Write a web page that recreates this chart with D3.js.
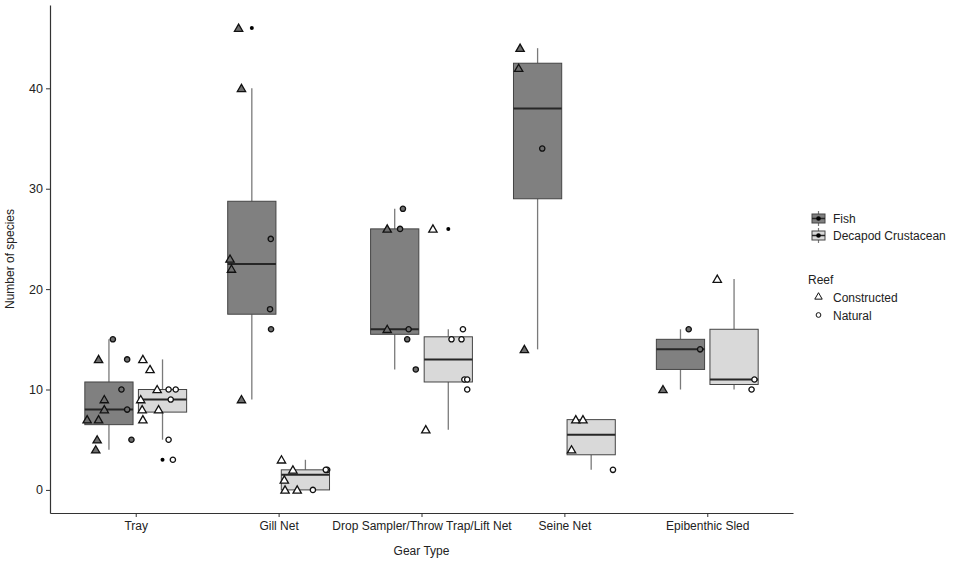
<!DOCTYPE html>
<html>
<head>
<meta charset="utf-8">
<script src="https://cdn.jsdelivr.net/npm/d3@7"></script>
<style>
  html, body { margin: 0; background: #fff; }
  text { font-family: "Liberation Sans", Arial, sans-serif; }
</style>
</head>
<body>
<script>
const gears = ['Tray', 'Gill Net', 'Drop Sampler/Throw Trap/Lift Net', 'Seine Net', 'Epibenthic Sled'];
const taxa = ['Fish', 'Decapod Crustacean'];
const reefs = ['Constructed', 'Natural'];
const yTicks = [0, 10, 20, 30, 40];

// species counts per gear (same order as gears)
const fishConstructed = [[13, 9, 8, 7, 7, 5, 4], [46, 40, 23, 22, 9], [26, 16], [44, 42, 14], [10]];
const fishNatural = [[15, 13, 10, 8, 5], [25, 18, 16], [28, 26, 16, 15, 12], [34], [16, 14]];
const decapodConstructed = [[13, 12, 10, 9, 8, 8, 7], [3, 2, 1, 0, 0], [26, 6], [7, 7, 4], [21]];
const decapodNatural = [[10, 10, 9, 5, 3], [2, 2, 0], [16, 15, 15, 11, 11, 10], [2], [11, 10]];

// horizontal jitter of each point, in category steps
const fishConstructedJitter = [[-0.26, -0.22, -0.22, -0.34, -0.26, -0.27, -0.28], [-0.28, -0.26, -0.34, -0.33, -0.26], [-0.24, -0.24], [-0.31, -0.32, -0.28], [-0.31]];
const fishNaturalJitter = [[-0.16, -0.06, -0.10, -0.06, -0.03], [-0.055, -0.06, -0.053], [-0.13, -0.15, -0.09, -0.10, -0.04], [-0.155], [-0.13, -0.05]];
const decapodConstructedJitter = [[0.05, 0.10, 0.15, 0.035, 0.045, 0.16, 0.05], [0.02, 0.10, 0.04, 0.045, 0.13], [0.08, 0.03], [0.08, 0.13, 0.05], [0.07]];
const decapodNaturalJitter = [[0.23, 0.28, 0.245, 0.23, 0.26], [0.34, 0.33, 0.24], [0.29, 0.21, 0.28, 0.30, 0.32, 0.32], [0.34], [0.33, 0.31]];

const width = 957;
const height = 563;

const svg = d3.select('body')
  .append('svg')
  .attr('width', width)
  .attr('height', height);

const x = d3.scalePoint().domain(gears).range([50, 793]).padding(0.6);
const y = d3.scaleLinear().domain([-2.3, 48.3]).range([513, 5]);
const step = x.step();

const boxFill = d3.scaleOrdinal().domain(taxa).range(['#808080', '#d9d9d9']);
const pointFill = d3.scaleOrdinal().domain(taxa).range(['#6e6e6e', '#ffffff']);
const dodge = d3.scaleOrdinal().domain(taxa).range([-0.1875, 0.1875]);
const shape = d3.scaleOrdinal().domain(reefs).range([d3.symbolTriangle, d3.symbolCircle]);
const shapeSize = d3.scaleOrdinal().domain(reefs).range([30, 22]);
const boxW = 0.3375 * step;

// flatten into point records
const points = [];
const addSeries = (taxon, reef, vals, jit) => {
  vals.forEach((arr, gi) => {
    arr.forEach((v, k) => {
      points.push({ gear: gears[gi], taxon, reef, value: v, jitter: jit[gi][k] });
    });
  });
};
addSeries('Fish', 'Constructed', fishConstructed, fishConstructedJitter);
addSeries('Fish', 'Natural', fishNatural, fishNaturalJitter);
addSeries('Decapod Crustacean', 'Constructed', decapodConstructed, decapodConstructedJitter);
addSeries('Decapod Crustacean', 'Natural', decapodNatural, decapodNaturalJitter);

const stats = (vals) => {
  const s = vals.slice().sort(d3.ascending);
  const q1 = d3.quantile(s, 0.25);
  const med = d3.quantile(s, 0.5);
  const q3 = d3.quantile(s, 0.75);
  const iqr = q3 - q1;
  const inside = s.filter(v => v >= q1 - 1.5 * iqr && v <= q3 + 1.5 * iqr);
  return {
    q1, med, q3,
    lo: d3.min(inside),
    hi: d3.max(inside),
    out: s.filter(v => v < q1 - 1.5 * iqr || v > q3 + 1.5 * iqr)
  };
};

// boxplots
gears.forEach(g => {
  taxa.forEach(t => {
    const vals = points.filter(p => p.gear === g && p.taxon === t).map(p => p.value);
    const st = stats(vals);
    const cx = x(g) + dodge(t) * step;
    const grp = svg.append('g');
    grp.append('line')
      .attr('x1', cx).attr('x2', cx)
      .attr('y1', y(st.hi)).attr('y2', y(st.q3))
      .attr('stroke', '#7a7a7a').attr('stroke-width', 1.3);
    grp.append('line')
      .attr('x1', cx).attr('x2', cx)
      .attr('y1', y(st.q1)).attr('y2', y(st.lo))
      .attr('stroke', '#7a7a7a').attr('stroke-width', 1.3);
    grp.append('rect')
      .attr('x', cx - boxW / 2)
      .attr('y', y(st.q3))
      .attr('width', boxW)
      .attr('height', y(st.q1) - y(st.q3))
      .attr('fill', boxFill(t))
      .attr('stroke', '#444')
      .attr('stroke-width', 1);
    grp.append('line')
      .attr('x1', cx - boxW / 2).attr('x2', cx + boxW / 2)
      .attr('y1', y(st.med)).attr('y2', y(st.med))
      .attr('stroke', '#262626').attr('stroke-width', 2);
    st.out.forEach(v => {
      grp.append('circle')
        .attr('cx', cx).attr('cy', y(v)).attr('r', 2)
        .attr('fill', '#000');
    });
  });
});

// jittered points
svg.append('g')
  .selectAll('path')
  .data(points)
  .join('path')
  .attr('transform', d => `translate(${x(d.gear) + d.jitter * step},${y(d.value) + (d.reef === 'Constructed' ? 0.8 : 0)})`)
  .attr('d', d => d3.symbol(shape(d.reef), shapeSize(d.reef))())
  .attr('fill', d => pointFill(d.taxon))
  .attr('stroke', '#111')
  .attr('stroke-width', 1.3);

// axes
const yAxis = svg.append('g')
  .attr('transform', 'translate(50,0)')
  .call(d3.axisLeft(y).tickValues(yTicks).tickSize(4).tickSizeOuter(0).tickPadding(3));
const xAxis = svg.append('g')
  .attr('transform', 'translate(0,513)')
  .call(d3.axisBottom(x).tickSize(4).tickSizeOuter(0).tickPadding(4));
[yAxis, xAxis].forEach(a => {
  a.select('.domain').attr('stroke', '#333').attr('stroke-width', 1.2);
  a.selectAll('.tick line').attr('stroke', '#333');
  a.selectAll('.tick text')
    .attr('fill', '#222')
    .style('font-family', '"Liberation Sans", Arial, sans-serif')
    .style('font-size', '12.5px');
});
xAxis.selectAll('.tick text').style('font-size', '12px');

svg.append('text')
  .attr('transform', 'translate(14,259) rotate(-90)')
  .attr('text-anchor', 'middle')
  .attr('font-size', 12)
  .attr('fill', '#222')
  .text('Number of species');

svg.append('text')
  .attr('x', x(gears[2]))
  .attr('y', 555)
  .attr('text-anchor', 'middle')
  .attr('font-size', 12)
  .attr('fill', '#222')
  .text('Gear Type');

// legend: taxon
const legTaxon = svg.append('g').attr('transform', 'translate(811,211)');
taxa.forEach((t, i) => {
  const k = legTaxon.append('g').attr('transform', `translate(0,${i * 17})`);
  k.append('line').attr('x1', 7.5).attr('x2', 7.5).attr('y1', 0).attr('y2', 15)
    .attr('stroke', '#7a7a7a').attr('stroke-width', 1.2);
  k.append('rect').attr('x', 1).attr('y', 3).attr('width', 13).attr('height', 9)
    .attr('fill', boxFill(t)).attr('stroke', '#444');
  k.append('line').attr('x1', 1).attr('x2', 14).attr('y1', 7.5).attr('y2', 7.5)
    .attr('stroke', '#262626').attr('stroke-width', 1.5);
  k.append('circle').attr('cx', 7.5).attr('cy', 7.5).attr('r', 2.3).attr('fill', '#000');
  k.append('text').attr('x', 22).attr('y', 12).attr('font-size', 12).attr('fill', '#222').text(t);
});

// legend: reef
const legReef = svg.append('g').attr('transform', 'translate(808,284)');
legReef.append('text').attr('x', 0).attr('y', 0).attr('font-size', 12).attr('fill', '#222').text('Reef');
reefs.forEach((r, i) => {
  const k = legReef.append('g').attr('transform', `translate(0,${13 + i * 18})`);
  k.append('path')
    .attr('transform', 'translate(10.5,0)')
    .attr('d', d3.symbol(shape(r), shapeSize(r) * 0.8)())
    .attr('fill', '#fff').attr('stroke', '#111').attr('stroke-width', 1);
  k.append('text').attr('x', 25).attr('y', 4.5).attr('font-size', 12).attr('fill', '#222').text(r);
});
</script>
</body>
</html>
